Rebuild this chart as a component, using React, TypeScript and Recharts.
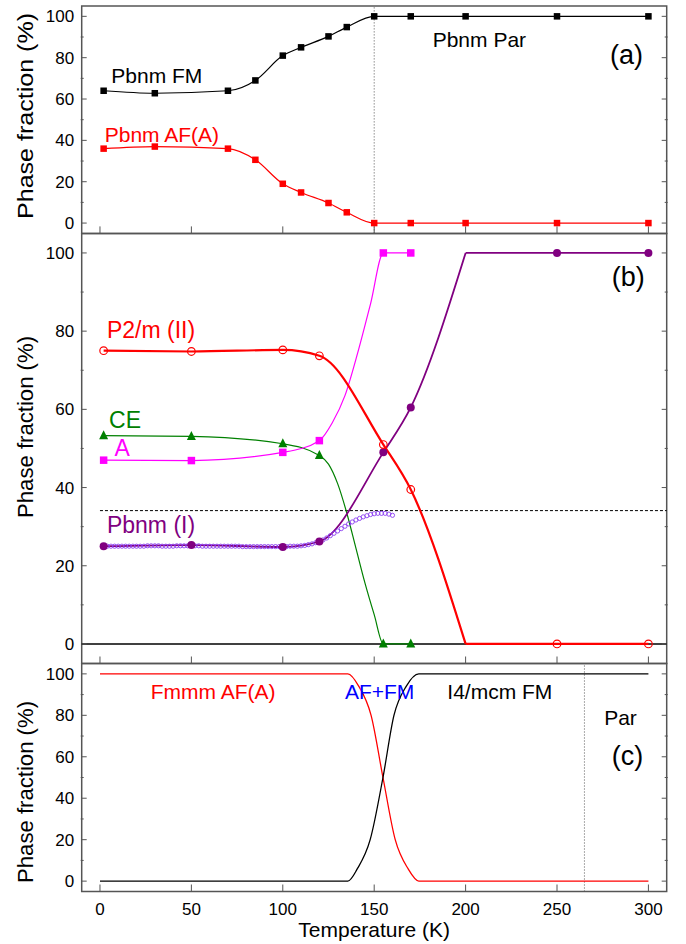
import React from "react";
import {
  ComposedChart,
  Line,
  XAxis,
  YAxis,
  ReferenceLine,
  ReferenceArea,
  ReferenceDot,
} from "recharts";

const FONT = "'Liberation Sans', Arial, Helvetica, sans-serif";
const FRAME = "#555";

const xTicks = [0, 50, 100, 150, 200, 250, 300];
const yTicks = [0, 20, 40, 60, 80, 100];
const yMinorTicks = [10, 30, 50, 70, 90];

// (a) Pbnm FM / AF(A)
const aTemp = [2, 30, 70, 85, 100, 110, 125, 135, 150, 170, 200, 250, 300];
const aFM = [64, 62.8, 64, 69, 81, 85, 90.3, 94.8, 100, 100, 100, 100, 100];
const aAF = [36, 37, 36, 30.6, 19, 14.8, 9.7, 5.2, 0, 0, 0, 0, 0];

// (b) refined points
const bTemp = [2, 50, 100, 120, 155, 170];
const bP2m = [75, 74.8, 75.2, 73.7, 51, 39.5];
const bCE = [53.3, 53.1, 51.2, 48.2, 0, 0];
const bA = [47, 46.9, 49, 52, 100, 100];
const bPbnm = [25, 25.3, 24.8, 26.2, 49, 60.5];
const bHighTemp = [250, 300];
const bP2mHigh = [0, 0];
const bPbnmHigh = [100, 100];
// where P2/m vanishes and Pbnm saturates
const bEdgeTemp = [200, 250, 300];
const bP2mEdge = [0, 0, 0];
const bPbnmEdge = [100, 100, 100];

// (b) guide curves
const bARiseTemp = [127, 134, 141, 148];
const bARise = [56.5, 63.5, 74.5, 87];
const bCEDropTemp = [125, 130, 135, 140, 145, 150];
const bCEDrop = [46, 41, 33.5, 24.5, 15.5, 7.5];

// (b) Pbnm (I) small open circles
const pfTemp = [
  4, 6, 8, 10, 12, 14, 16, 18, 20, 22, 24, 26, 28, 30, 32, 34, 36, 38, 40, 42,
  44, 46, 48, 50, 52, 54, 56, 58, 60, 62, 64, 66, 68, 70, 72, 74, 76, 78, 80,
  82, 84, 86, 88, 90, 92, 94, 96, 98, 100, 102, 104, 106, 108, 110, 112, 114,
  116, 118, 120, 122, 124, 126, 128, 130, 132, 134, 136, 138, 140, 142, 144,
  146, 148, 150, 152, 154, 156, 158, 160,
];
const pfVal = [
  25, 25, 25, 25, 25, 25, 25, 25, 25, 25, 25, 25.1, 25.1, 25.1, 25.1, 25, 25,
  25, 25, 25.1, 25.1, 25.1, 25.1, 25.1, 25.1, 25.1, 25, 25, 25, 25, 25, 25, 25,
  25, 25, 25, 25, 24.9, 24.9, 24.9, 24.9, 24.9, 24.9, 24.9, 24.9, 24.9, 24.9,
  24.9, 24.9, 24.9, 25, 25, 25, 25.1, 25.2, 25.4, 25.6, 25.9, 26.2, 26.6, 27.1,
  27.7, 28.3, 28.9, 29.5, 30.1, 30.7, 31.2, 31.7, 32.1, 32.5, 32.8, 33.1, 33.3,
  33.4, 33.4, 33.4, 33.2, 32.9,
];
const bDashLevel = 34.1;

// (c) model phase fractions
const cFmmmTemp = [0, 135.6, 141.6, 148.3, 154.8, 161.5, 168.5, 174.4, 300];
const cFmmm = [100, 100, 94, 80, 50, 20, 6, 0, 0];
const cI4Temp = [0, 135.6, 140.8, 147.8, 154.8, 160.8, 167.5, 174.4, 300];
const cI4 = [0, 0, 6, 20, 50, 80, 94, 100, 100];

type Pt = { t: number; v: number };
const zip = (ts: number[], vs: number[]): Pt[] =>
  ts.map((t, i) => ({ t, v: vs[i] }));

const sq = (color: string, s: number) => (p: any) =>
  p.cx == null ? <g key={`q${p.index}`} /> : (
    <rect key={`q${p.index}`} x={p.cx - s / 2} y={p.cy - s / 2} width={s} height={s} fill={color} />
  );
const disc = (color: string, r: number) => (p: any) =>
  p.cx == null ? <g key={`d${p.index}`} /> : (
    <circle key={`d${p.index}`} cx={p.cx} cy={p.cy} r={r} fill={color} />
  );
const ring = (color: string, r: number, w: number) => (p: any) =>
  p.cx == null ? <g key={`r${p.index}`} /> : (
    <circle key={`r${p.index}`} cx={p.cx} cy={p.cy} r={r} fill="none" stroke={color} strokeWidth={w} />
  );
const tri = (color: string, s: number) => (p: any) =>
  p.cx == null ? <g key={`t${p.index}`} /> : (
    <polygon
      key={`t${p.index}`}
      points={`${p.cx},${p.cy - s * 0.6} ${p.cx - s / 2},${p.cy + s * 0.4} ${p.cx + s / 2},${p.cy + s * 0.4}`}
      fill={color}
    />
  );

const curve = (id: string, data: Pt[], color: string, width: number, type: any = "monotone") => (
  <Line
    key={id}
    xAxisId="x"
    yAxisId="y"
    data={data}
    dataKey="v"
    type={type}
    stroke={color}
    strokeWidth={width}
    dot={false}
    activeDot={false}
    isAnimationActive={false}
  />
);

const marks = (id: string, data: Pt[], shape: any) => (
  <Line
    key={id}
    xAxisId="x"
    yAxisId="y"
    data={data}
    dataKey="v"
    stroke="none"
    dot={shape}
    activeDot={false}
    isAnimationActive={false}
  />
);

const tag = (id: string, t: number, v: number, text: string, color: string, size = 21) => (
  <ReferenceDot
    key={id}
    xAxisId="x"
    yAxisId="y"
    x={t}
    y={v}
    r={0}
    ifOverflow="visible"
    shape={(p: any) => (
      <text x={p.cx} y={p.cy} fill={color} fontSize={size} fontFamily={FONT}>
        {text}
      </text>
    )}
  />
);

const noTick = () => <g />;
const yTick = (p: any) => (
  <text x={p.x} y={p.y} dy="0.36em" textAnchor="end" fontSize={17} fontFamily={FONT} fill="#000">
    {p.payload.value}
  </text>
);
const xTick = (p: any) => (
  <text x={p.x} y={p.y} textAnchor="middle" fontSize={17} fontFamily={FONT} fill="#000">
    {p.payload.value}
  </text>
);

// axes of width/height 1 (a 0 size axis is not drawn)
const axes = (withLabels: boolean) => [
  <XAxis
    key="x"
    xAxisId="x"
    type="number"
    dataKey="t"
    domain={[-10, 310]}
    allowDataOverflow
    ticks={xTicks}
    interval={0}
    tickSize={-7}
    tickMargin={30}
    axisLine={false}
    stroke={FRAME}
    height={withLabels ? 52.5 : 1}
    tick={withLabels ? xTick : noTick}
  />,
  <YAxis
    key="y"
    yAxisId="y"
    type="number"
    dataKey="v"
    domain={[-5, 105]}
    allowDataOverflow
    ticks={yTicks}
    interval={0}
    tickSize={-5}
    tickMargin={12.6}
    width={1}
    axisLine={false}
    stroke={FRAME}
    tick={yTick}
  />,
  <YAxis key="ym" yAxisId="ym" type="number" domain={[-5, 105]} allowDataOverflow ticks={yMinorTicks}
    interval={0} tickSize={-3} width={1} axisLine={false} stroke={FRAME} tick={noTick} />,
  <YAxis key="yr" yAxisId="yr" orientation="right" type="number" domain={[-5, 105]} allowDataOverflow
    ticks={yTicks} interval={0} tickSize={-5} width={1} axisLine={false} stroke={FRAME} tick={noTick} />,
  <YAxis key="yrm" yAxisId="yrm" orientation="right" type="number" domain={[-5, 105]} allowDataOverflow
    ticks={yMinorTicks} interval={0} tickSize={-3} width={1} axisLine={false} stroke={FRAME} tick={noTick} />,
  <ReferenceArea key="frame" xAxisId="x" yAxisId="y" x1={-10} x2={310} y1={-5} y2={105}
    fill="none" fillOpacity={0} stroke={FRAME} strokeWidth={1.5} />,
];

const W = 686;
const H = 944;
const ML = 79.7;
const MR = 17.3;
const chartStyle: React.CSSProperties = { position: "absolute", left: 0, top: 0 };

function PanelA() {
  return (
    <ComposedChart width={W} height={H} style={chartStyle} margin={{ top: 6, right: MR, bottom: 709.6, left: ML }}>
      {axes(false)}
      <ReferenceLine xAxisId="x" yAxisId="y" x={150} stroke={FRAME} strokeDasharray="1 2" />
      {curve("fm", zip(aTemp, aFM), "#000", 1.2)}
      {curve("af", zip(aTemp, aAF), "#ff0000", 1.2)}
      {marks("fmM", zip(aTemp, aFM), sq("#000", 6.5))}
      {marks("afM", zip(aTemp, aAF), sq("#ff0000", 6.5))}
      {tag("l1", 6.2, 67.6, "Pbnm FM", "#000")}
      {tag("l2", 2.6, 39.3, "Pbnm AF(A)", "#ff0000")}
      {tag("l3", 182, 85.3, "Pbnm Par", "#000")}
      {tag("l4", 279, 76.8, "(a)", "#000", 27)}
    </ComposedChart>
  );
}

function PanelB() {
  const p2mLine = [...zip(bTemp, bP2m), { t: bEdgeTemp[0], v: bP2mEdge[0] }];
  const pbnmLine = [...zip(bTemp, bPbnm), { t: bEdgeTemp[0], v: bPbnmEdge[0] }];
  const aLine = [
    ...zip(bTemp.slice(0, 4), bA.slice(0, 4)),
    ...zip(bARiseTemp, bARise),
    ...zip(bTemp.slice(4), bA.slice(4)),
  ];
  const ceLine = [
    ...zip(bTemp.slice(0, 4), bCE.slice(0, 4)),
    ...zip(bCEDropTemp, bCEDrop),
    ...zip(bTemp.slice(4), bCE.slice(4)),
  ];
  return (
    <ComposedChart width={W} height={H} style={chartStyle} margin={{ top: 233.4, right: MR, bottom: 279.5, left: ML }}>
      {axes(false)}
      <ReferenceLine xAxisId="x" yAxisId="y" y={0} stroke="#000" strokeWidth={1.5} />
      <ReferenceLine
        xAxisId="x"
        yAxisId="y"
        segment={[{ x: 0, y: bDashLevel }, { x: 310, y: bDashLevel }]}
        stroke="#000"
        strokeDasharray="3 2"
      />
      {curve("ce", ceLine, "#008000", 1.2)}
      {curve("a", aLine, "#ff00ff", 1.2)}
      {curve("pb", pbnmLine, "#800080", 1.8)}
      {curve("pbHigh", zip(bEdgeTemp, bPbnmEdge), "#800080", 1.8, "linear")}
      {curve("p2", p2mLine, "#ff0000", 2.2)}
      {curve("p2High", zip(bEdgeTemp, bP2mEdge), "#ff0000", 2.2, "linear")}
      {marks("pfM", zip(pfTemp, pfVal), ring("#8a3cf0", 2.1, 0.9))}
      {marks("ceM", zip(bTemp, bCE), tri("#008000", 9))}
      {marks("aM", zip(bTemp, bA), sq("#ff00ff", 7.5))}
      {marks("pbM", zip(bTemp, bPbnm), disc("#800080", 4))}
      {marks("pbHM", zip(bHighTemp, bPbnmHigh), disc("#800080", 4))}
      {marks("p2M", zip(bTemp, bP2m), ring("#ff0000", 3.8, 1.2))}
      {marks("p2HM", zip(bHighTemp, bP2mHigh), ring("#ff0000", 3.8, 1.2))}
      {tag("m1", 3.8, 78.3, "P2/m (II)", "#ff0000", 23)}
      {tag("m2", 5, 55.2, "CE", "#008000", 23)}
      {tag("m3", 7.9, 48, "A", "#ff00ff", 23)}
      {tag("m4", 3.8, 28.4, "Pbnm (I)", "#800080", 23)}
      {tag("m5", 280, 91.6, "(b)", "#000", 27)}
    </ComposedChart>
  );
}

function PanelC() {
  return (
    <ComposedChart width={W} height={H} style={chartStyle} margin={{ top: 663.5, right: MR, bottom: 0, left: ML }}>
      {axes(true)}
      <ReferenceLine xAxisId="x" yAxisId="y" x={265} stroke={FRAME} strokeDasharray="1 2" />
      {curve("fmmm", zip(cFmmmTemp, cFmmm), "#ff0000", 1.3)}
      {curve("i4", zip(cI4Temp, cI4), "#000", 1.3)}
      {tag("n1", 27.8, 87.7, "Fmmm AF(A)", "#ff0000")}
      {tag("n2", 134, 87.7, "AF+FM", "#0000ff")}
      {tag("n3", 190, 87.7, "I4/mcm FM", "#000")}
      {tag("n4", 275.8, 75.1, "Par", "#000")}
      {tag("n5", 280, 55.8, "(c)", "#000", 27)}
    </ComposedChart>
  );
}

// y titles: centre and length along the axis
const yTitleCenters = [116, 427, 792];
const yTitleLengths = [206, 182, 182];

export default function App() {
  return (
    <div style={{ position: "absolute", left: 0, top: 0, width: W, height: H, background: "#fff" }}>
      <PanelA />
      <PanelB />
      <PanelC />
      <svg width={W} height={H} style={{ position: "absolute", left: 0, top: 0, pointerEvents: "none" }}>
        {yTitleCenters.map((cy, i) => (
          <text
            key={cy}
            transform={`translate(33, ${cy}) rotate(-90)`}
            textAnchor="middle"
            fontSize={22}
            fontFamily={FONT}
            fill="#000"
            textLength={yTitleLengths[i]}
            lengthAdjust="spacingAndGlyphs"
          >
            Phase fraction (%)
          </text>
        ))}
        <text x={374.2} y={937} textAnchor="middle" fontSize={21} fontFamily={FONT} fill="#000">
          Temperature (K)
        </text>
      </svg>
    </div>
  );
}
